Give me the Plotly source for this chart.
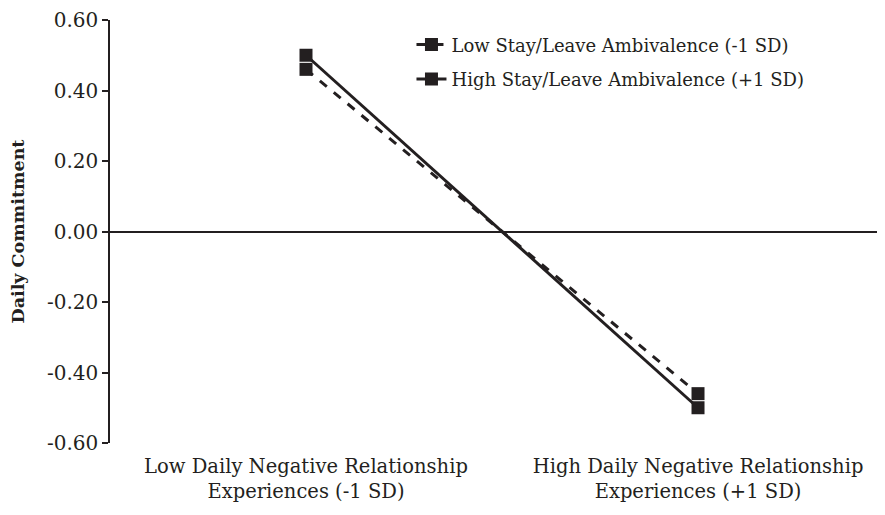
import plotly.graph_objects as go

categories = ["Low Daily Negative Relationship<br>Experiences (-1 SD)",
              "High Daily Negative Relationship<br>Experiences (+1 SD)"]
x_pos = [0, 1]
low_amb = [0.46, -0.46]
high_amb = [0.50, -0.50]
y_ticks = [0.60, 0.40, 0.20, 0.00, -0.20, -0.40, -0.60]
y_ticktext = ["0.60", "0.40", "0.20", "0.00", "-0.20", "-0.40", "-0.60"]

FONT = "DejaVu Serif"
INK = "#231f20"

fig = go.Figure()
fig.add_trace(go.Scatter(
    x=x_pos, y=low_amb, mode="lines+markers",
    name="Low Stay/Leave Ambivalence (-1 SD)",
    line=dict(color=INK, width=3, dash="dash"),
    marker=dict(symbol="square", size=13, color=INK),
    legendgroup="a"))
fig.add_trace(go.Scatter(
    x=x_pos, y=high_amb, mode="lines+markers",
    name="High Stay/Leave Ambivalence (+1 SD)",
    line=dict(color=INK, width=3),
    marker=dict(symbol="square", size=13, color=INK),
    legendgroup="b"))

fig.update_layout(
    width=877, height=507,
    margin=dict(l=102, r=0, t=10, b=72),
    plot_bgcolor="white", paper_bgcolor="white",
    font=dict(family=FONT, size=18, color=INK),
    showlegend=True,
    legend=dict(x=0.389, y=0.985, xanchor="left", yanchor="top",
                bgcolor="rgba(0,0,0,0)", tracegroupgap=8,
                font=dict(family=FONT, size=18)),
    xaxis=dict(range=[-0.5, 1.477], tickvals=x_pos, ticktext=categories,
               showline=False, showgrid=False, zeroline=False, ticks="",
               ticklabelstandoff=9,
               tickfont=dict(family=FONT, size=19.5)),
    yaxis=dict(range=[-0.6, 0.6], tickvals=y_ticks, ticktext=y_ticktext,
               showline=True, linecolor=INK, linewidth=1.5,
               ticks="outside", ticklen=6, tickcolor=INK, tickwidth=1.5,
               ticklabeloverflow="allow",
               showgrid=False, zeroline=True, zerolinecolor=INK,
               zerolinewidth=1.5,
               title=dict(text="<b>Daily Commitment</b>", standoff=20,
                          font=dict(family=FONT, size=17.5)),
               tickfont=dict(family=FONT, size=20)),
)

fig.write_html("out.html")
